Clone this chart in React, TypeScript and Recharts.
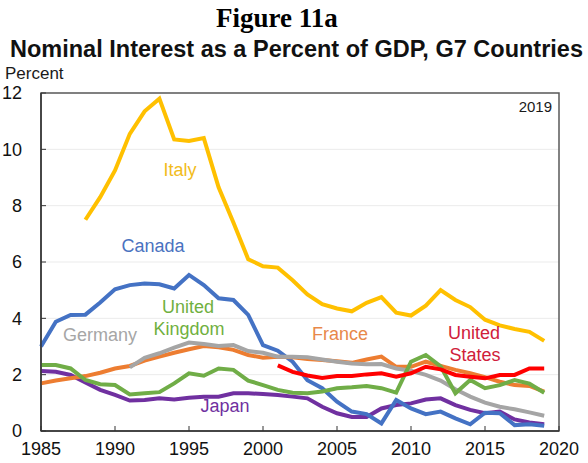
import React from "react";
import { LineChart, Line, XAxis, YAxis, CartesianGrid, ReferenceArea } from "recharts";

const years = [
  1985, 1986, 1987, 1988, 1989, 1990, 1991, 1992, 1993, 1994, 1995, 1996,
  1997, 1998, 1999, 2000, 2001, 2002, 2003, 2004, 2005, 2006, 2007, 2008,
  2009, 2010, 2011, 2012, 2013, 2014, 2015, 2016, 2017, 2018, 2019,
];

const italy = [
  null, null, null, 7.5, 8.3, 9.25, 10.55, 11.35, 11.8, 10.35, 10.3, 10.4,
  8.65, 7.4, 6.1, 5.85, 5.8, 5.35, 4.85, 4.5, 4.35, 4.25, 4.55, 4.75,
  4.2, 4.1, 4.45, 5.0, 4.65, 4.4, 3.95, 3.75, 3.62, 3.52, 3.2,
];
const canada = [
  3.0, 3.88, 4.12, 4.13, 4.56, 5.03, 5.18, 5.24, 5.21, 5.06, 5.54, 5.18,
  4.71, 4.65, 4.12, 3.05, 2.85, 2.46, 1.8, 1.52, 1.04, 0.69, 0.6, 0.27,
  1.1, 0.8, 0.6, 0.69, 0.45, 0.24, 0.65, 0.63, 0.21, 0.24, 0.19,
];
const germany = [
  null, null, null, null, null, null, 2.26, 2.6, 2.76, 2.96, 3.14, 3.09,
  3.02, 3.05, 2.84, 2.78, 2.64, 2.64, 2.62, 2.54, 2.46, 2.4, 2.37, 2.38,
  2.22, 2.14, 1.99, 1.79, 1.48, 1.22, 1.01, 0.86, 0.77, 0.66, 0.54,
];
const france = [
  1.69, 1.79, 1.87, 1.95, 2.07, 2.22, 2.31, 2.5, 2.64, 2.78, 2.9, 3.02,
  2.97, 2.88, 2.7, 2.6, 2.64, 2.62, 2.56, 2.52, 2.48, 2.42, 2.54, 2.64,
  2.28, 2.28, 2.46, 2.31, 2.17, 2.05, 1.91, 1.75, 1.63, 1.6, 1.4,
];
const unitedKingdom = [
  2.34, 2.34, 2.22, 1.81, 1.66, 1.63, 1.3, 1.34, 1.38, 1.69, 2.05, 1.96,
  2.22, 2.17, 1.79, 1.63, 1.46, 1.36, 1.34, 1.4, 1.52, 1.55, 1.6, 1.52,
  1.36, 2.46, 2.7, 2.3, 1.34, 1.81, 1.52, 1.63, 1.81, 1.68, 1.36,
];
const japan = [
  2.13, 2.1, 1.99, 1.72, 1.46, 1.28, 1.08, 1.1, 1.16, 1.12, 1.18, 1.22,
  1.22, 1.34, 1.34, 1.31, 1.28, 1.22, 1.16, 0.86, 0.63, 0.5, 0.5, 0.8,
  0.92, 0.98, 1.12, 1.16, 0.92, 0.75, 0.63, 0.69, 0.41, 0.3, 0.24,
];
const unitedStates = [
  null, null, null, null, null, null, null, null, null, null, null, null,
  null, null, null, null, 2.33, 2.1, 1.97, 1.88, 1.95, 1.95, 2.01, 2.05,
  1.93, 2.05, 2.28, 2.19, 1.99, 1.93, 1.87, 1.99, 1.99, 2.22, 2.22,
];

const xTicks = [1985, 1990, 1995, 2000, 2005, 2010, 2015, 2020];
const yTicks = [0, 2, 4, 6, 8, 10, 12];

const data = years.map((year, i) => ({
  year,
  italy: italy[i],
  canada: canada[i],
  germany: germany[i],
  france: france[i],
  uk: unitedKingdom[i],
  japan: japan[i],
  us: unitedStates[i],
}));

const font = "'Liberation Sans', Arial, sans-serif";
const tickStyle = { fill: "#111", fontSize: 18, fontFamily: font };

export default function App() {
  return (
    <div style={{ position: "absolute", left: 0, top: 0, width: 588, height: 463, background: "#fff" }}>
      <LineChart width={588} height={463} data={data} margin={{ top: 93, right: 29, bottom: 2, left: 0 }}>
        <CartesianGrid vertical={false} stroke="#ebebeb" strokeWidth={1} />
        <ReferenceArea x1={1985} x2={2020} y1={0} y2={12} fill="none" stroke="#595959" strokeWidth={1.5} />
        <XAxis
          dataKey="year"
          type="number"
          domain={[1985, 2020]}
          ticks={xTicks}
          height={30}
          tickSize={-5}
          tickMargin={16}
          tick={tickStyle}
          stroke="#333"
          axisLine={{ stroke: "#333", strokeWidth: 1.5 }}
        />
        <YAxis
          type="number"
          domain={[0, 12]}
          ticks={yTicks}
          width={41}
          tickSize={-5}
          tickMargin={24}
          tick={tickStyle}
          stroke="#333"
          axisLine={{ stroke: "#333", strokeWidth: 1.5 }}
        />
        <Line dataKey="italy" stroke="#FFC000" strokeWidth={4} dot={false} isAnimationActive={false} />
        <Line dataKey="japan" stroke="#7030A0" strokeWidth={4} dot={false} isAnimationActive={false} />
        <Line dataKey="canada" stroke="#4472C4" strokeWidth={4} dot={false} isAnimationActive={false} />
        <Line dataKey="france" stroke="#ED7D31" strokeWidth={4} dot={false} isAnimationActive={false} />
        <Line dataKey="germany" stroke="#A5A5A5" strokeWidth={4} dot={false} isAnimationActive={false} />
        <Line dataKey="uk" stroke="#70AD47" strokeWidth={4} dot={false} isAnimationActive={false} />
        <Line dataKey="us" stroke="#FF0000" strokeWidth={4} dot={false} isAnimationActive={false} />
      </LineChart>
      <svg width={588} height={463} style={{ position: "absolute", left: 0, top: 0, pointerEvents: "none" }}>
        <text x={277} y={27} textAnchor="middle" fontFamily="'Liberation Serif', 'Times New Roman', serif" fontWeight="bold" fontSize={27} fill="#000">
          Figure 11a
        </text>
        <text x={10} y={57} textLength={573} lengthAdjust="spacingAndGlyphs" fontFamily={font} fontWeight="bold" fontSize={23} fill="#111">
          Nominal Interest as a Percent of GDP, G7 Countries
        </text>
        <text x={5} y={79} fontFamily={font} fontSize={17} fill="#1a1a1a">Percent</text>
        <text x={552} y={112} textAnchor="end" fontFamily={font} fontSize={15} fill="#1a1a1a">2019</text>
        <g fontFamily={font} fontSize={18} textAnchor="middle">
          <text x={180} y={176} fill="#F2BC1C">Italy</text>
          <text x={153} y={252} fill="#4A72C0">Canada</text>
          <text x={188} y={313} fill="#70B040">United</text>
          <text x={189} y={335} fill="#70B040">Kingdom</text>
          <text x={100} y={341} fill="#A6A6A6">Germany</text>
          <text x={225} y={412} fill="#7030A0">Japan</text>
          <text x={340} y={340} fill="#E8884A">France</text>
          <text x={474} y={339} fill="#D0203A">United</text>
          <text x={475} y={361} fill="#D0203A">States</text>
        </g>
      </svg>
    </div>
  );
}
